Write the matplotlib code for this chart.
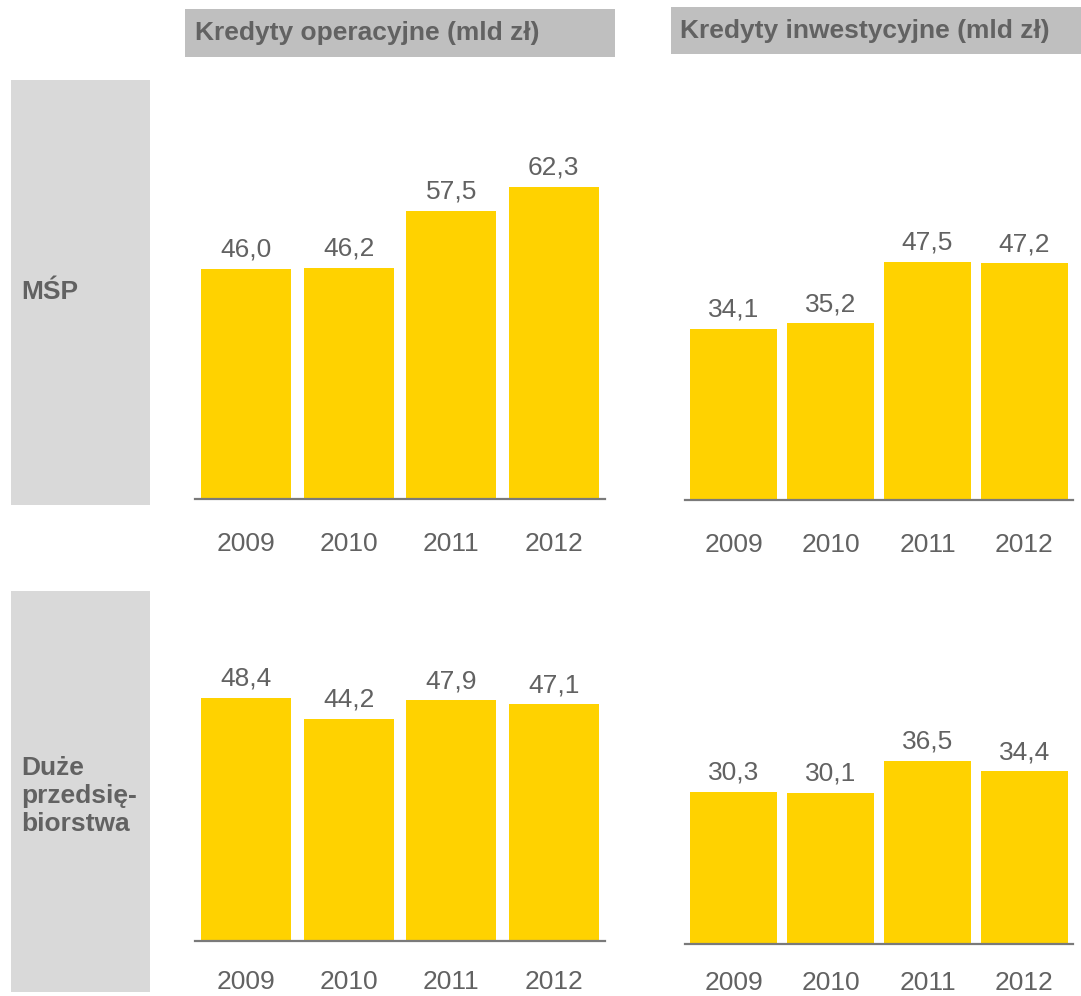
import matplotlib
matplotlib.use('Agg')
import matplotlib.pyplot as plt
from matplotlib.patches import Rectangle

plt.rcParams['font.family'] = ['Liberation Sans', 'DejaVu Sans']

years = ['2009', '2010', '2011', '2012']
msp_oper = [46.0, 46.2, 57.5, 62.3]
msp_inw = [34.1, 35.2, 47.5, 47.2]
duze_oper = [48.4, 44.2, 47.9, 47.1]
duze_inw = [30.3, 30.1, 36.5, 34.4]

col_titles = ['Kredyty operacyjne (mld zł)', 'Kredyty inwestycyjne (mld zł)']
row_titles = ['MŚP', 'Duże\nprzedsię-\nbiorstwa']

W, H = 1081, 996
yellow = '#FFD200'
txt_grey = '#626262'
axis_grey = '#7a7a7a'
px_per_unit = 5.02

fig = plt.figure(figsize=(W / 100, H / 100), dpi=100)


def box(x0, y0, x1, y1, color):
    # pixel coords from top-left
    fig.patches.append(Rectangle((x0 / W, 1 - y1 / H), (x1 - x0) / W, (y1 - y0) / H,
                                 transform=fig.transFigure, facecolor=color,
                                 edgecolor='none', zorder=0))


# column headers
box(185, 9, 615, 57, '#bfbfbf')
box(671, 7, 1081, 54, '#bfbfbf')
fig.text(195 / W, 1 - 33 / H, col_titles[0], fontsize=19, fontweight='bold',
         color=txt_grey, va='center', ha='left')
fig.text(680 / W, 1 - 31 / H, col_titles[1], fontsize=19, fontweight='bold',
         color=txt_grey, va='center', ha='left')

# row headers
box(11, 80, 150, 505, '#d9d9d9')
box(11, 591, 150, 992, '#d9d9d9')
fig.text(21 / W, 1 - 292 / H, row_titles[0], fontsize=19, fontweight='bold',
         color=txt_grey, va='center', ha='left')
fig.text(21 / W, 1 - 796 / H, row_titles[1], fontsize=19, fontweight='bold',
         color=txt_grey, va='center', ha='left', linespacing=1.2)

# (x0, x1, baseline, bar width, year label pad, values)
panels = [
    (195, 605, 499.5, 0.88, 23.5, msp_oper),
    (685, 1073, 500, 0.9, 23.5, msp_inw),
    (195, 605, 940.5, 0.88, 21.5, duze_oper),
    (685, 1073, 944, 0.9, 19.5, duze_inw),
]

ymax = 70
for x0, x1, base, bw, pad, vals in panels:
    h_px = ymax * px_per_unit
    ax = fig.add_axes([x0 / W, 1 - base / H, (x1 - x0) / W, h_px / H])
    ax.patch.set_alpha(0)
    xs = range(len(years))
    ax.bar(xs, vals, width=bw, color=yellow, zorder=2)
    ax.set_xlim(-0.5, 3.5)
    ax.set_ylim(0, ymax)
    for s in ['top', 'left', 'right']:
        ax.spines[s].set_visible(False)
    ax.spines['bottom'].set_color(axis_grey)
    ax.spines['bottom'].set_linewidth(1.6)
    ax.spines['bottom'].set_zorder(3)
    ax.set_yticks([])
    ax.set_xticks(list(xs), years)
    ax.tick_params(axis='x', length=0, pad=pad, labelsize=19, labelcolor=txt_grey)
    for i, v in enumerate(vals):
        ax.annotate(f'{v:.1f}'.replace('.', ','), xy=(i, v), xytext=(0, 8.6),
                    textcoords='offset points', ha='center', va='baseline',
                    fontsize=19, color=txt_grey)

fig.savefig('out.png', dpi=100)
